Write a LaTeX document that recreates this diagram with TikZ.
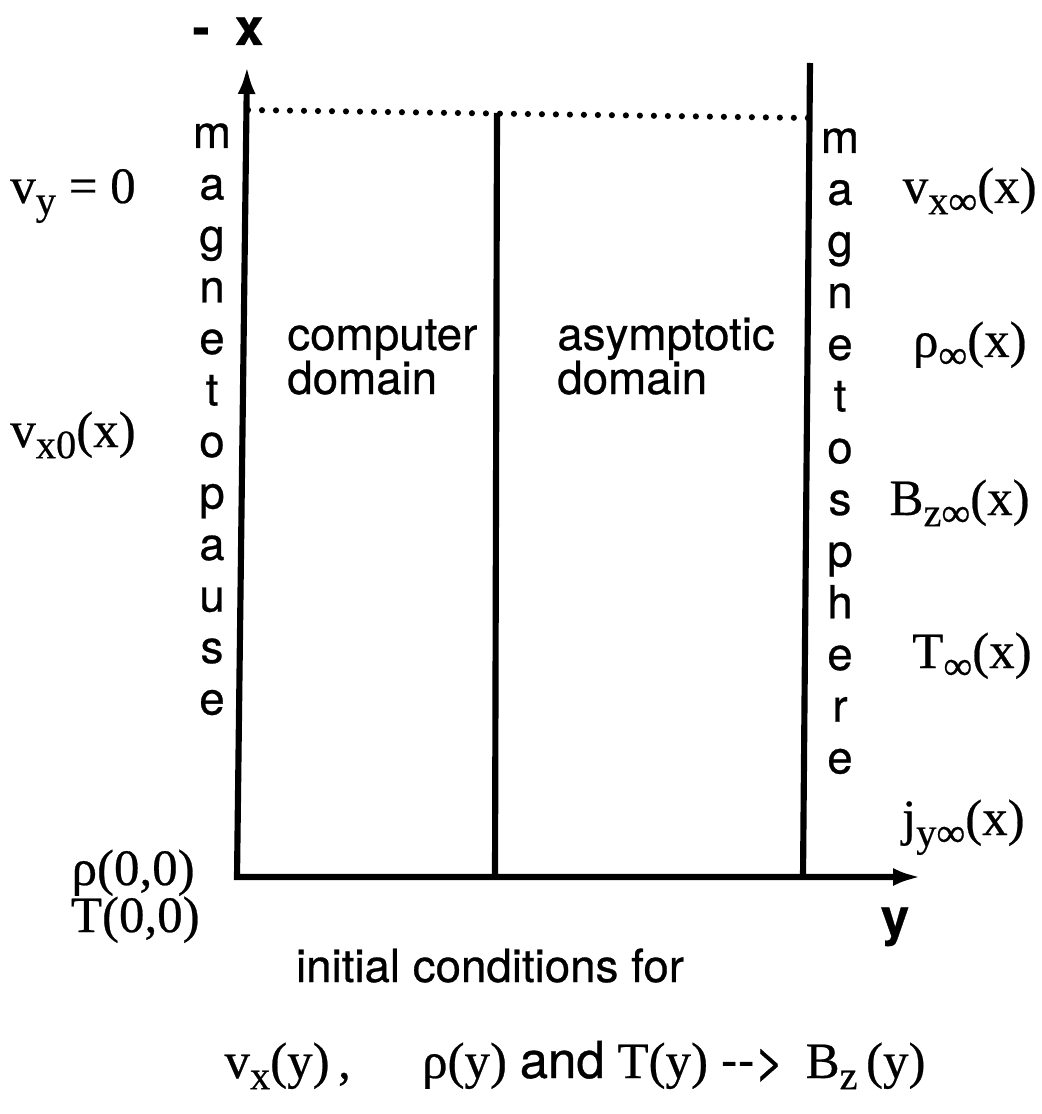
\documentclass[tikz,border=0pt]{standalone}
\usepackage{fontspec}
\setmainfont{TeX Gyre Heros}[FakeBold=0.6]
\newfontfamily\tms{Liberation Serif}[FakeBold=0.5]
\usetikzlibrary{arrows.meta}
\newcommand\lowsub[1]{\raisebox{-0.22em}{\fontsize{23}{23}\selectfont #1}}
\tikzset{
  axis/.style={line width=3.5pt},
  letter/.style={anchor=base, inner sep=0pt, font=\fontsize{26}{31}\selectfont},
  word/.style={anchor=base west, inner sep=0pt, font=\fontsize{26}{31}\selectfont},
  fn/.style={inner sep=0pt, font=\tms\fontsize{29}{34}\selectfont},
  axlabel/.style={anchor=base, inner sep=0pt, font=\bfseries\fontsize{29}{34}\selectfont}
}
\begin{document}
\begin{tikzpicture}[x=0.02cm, y=-0.02cm, >={Latex[length=0.56cm,width=0.36cm]}]
\useasboundingbox (0,0) rectangle (1041,1114);
\coordinate (O) at (237,877);
\coordinate (X) at (247,66);
\coordinate (Y) at (921,877);
\coordinate (M0) at (495,877);
\coordinate (M1) at (497,113);
\coordinate (R0) at (803,877);
\coordinate (R1) at (810,63);
\coordinate (D0) at (248,110);
\coordinate (D1) at (808,118);

\draw[axis, <->, line join=miter] (X) -- (O) -- (Y);
\draw[axis] (M0) -- (M1);
\draw[axis] (R0) -- (R1);
\draw[line width=3.5pt, line cap=round, dash pattern=on 0pt off 0.28cm] (D0) -- (D1);

\node[axlabel] (xlab) at (228,45) {-\hspace{0.5em}x};
\node[axlabel] (ylab) at (895,935) {y};

\foreach \c [count=\i from 0] in {m,a,g,n,e,t,o,p,a,u,s,e}
  \node[letter] (mp\i) at (212,{148+51.5*\i}) {\c};
\foreach \c [count=\i from 0] in {m,a,g,n,e,t,o,s,p,h,e,r,e}
  \node[letter] (ms\i) at (840,{153+51.7*\i}) {\c};

\node[word] (comp) at (287,350) {computer};
\node[word] (comp2) at (287,394) {domain};
\node[word] (asym) at (557,350) {asymptotic};
\node[word] (asym2) at (557,394) {domain};

\node[fn, anchor=base west] (vy) at (10,203) {v\lowsub{y} = 0};
\node[fn, anchor=base west] (vx0) at (10,447) {v\lowsub{x0}(x)};
\node[fn, anchor=base east] (rho0) at (195,885) {ρ(0,0)};
\node[fn, anchor=base east] (T0) at (200,932) {T(0,0)};

\node[fn, anchor=base east] (vxinf) at (1037,203) {v\lowsub{x∞}(x)};
\node[fn, anchor=base east] (rhoinf) at (1027,357) {ρ\lowsub{∞}(x)};
\node[fn, anchor=base east] (Bzinf) at (1030,515) {B\lowsub{z∞}(x)};
\node[fn, anchor=base east] (Tinf) at (1032,668) {T\lowsub{∞}(x)};
\node[fn, anchor=base east] (jyinf) at (1025,835) {j\lowsub{y∞}(x)};

\node[word, anchor=base] (init) at (490,982) {initial conditions for};
\node[fn, anchor=base] (bottom) at (575,1078)
  {v\lowsub{x}(y)\,,\hspace{1.4em}ρ(y) {\rmfamily and} T(y) {\rmfamily -{}->}\, B\lowsub{z}\,(y)};
\end{tikzpicture}
\end{document}
